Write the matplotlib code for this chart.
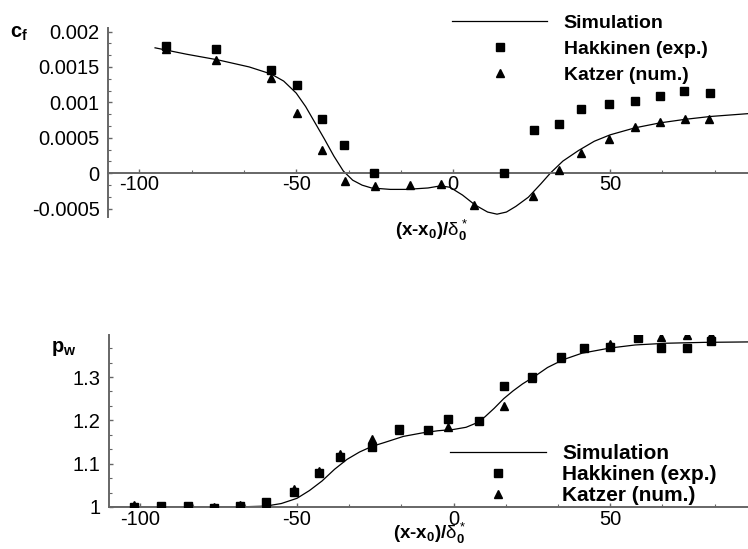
import matplotlib
matplotlib.use("Agg")
import matplotlib.pyplot as plt
from matplotlib.ticker import MultipleLocator, FuncFormatter

plt.rcParams['font.family'] = ['Liberation Sans', 'DejaVu Sans']
plt.rcParams['axes.unicode_minus'] = False
plt.rcParams['mathtext.fontset'] = 'custom'
plt.rcParams['mathtext.rm'] = 'Liberation Sans'
plt.rcParams['mathtext.it'] = 'Liberation Sans'
plt.rcParams['mathtext.bf'] = 'Liberation Sans:bold'

# skin friction, simulation curve
sim_cf_x = [-95, -85, -75, -65, -58, -54, -50, -47, -44, -41, -38, -35, -32, -29, -26,
            -20, -15, -8, -4, -1, 3, 7, 11, 14, 17, 20, 24, 28, 31, 35, 40, 45, 50,
            58, 66, 74, 82, 94]
sim_cf_y = [0.00177, 0.00168, 0.00160, 0.00150, 0.00140, 0.00130, 0.00113, 0.00094,
            0.00071, 0.00048, 0.00024, 0.00003, -0.00010, -0.00017, -0.00021,
            -0.00023, -0.00023, -0.00021, -0.00018, -0.00020, -0.00031, -0.00045,
            -0.00055, -0.00058, -0.00055, -0.00047, -0.00034, -0.00015, 0.0,
            0.00017, 0.00032, 0.00045, 0.00054, 0.00064, 0.00071, 0.00076,
            0.00080, 0.00084]

hak_cf_x = [-91.4, -75.5, -58.1, -49.7, -41.8, -34.9, -25.1, 16.2, 25.7, 33.6, 40.7,
            49.7, 57.9, 66.0, 73.7, 82.0]
hak_cf_y = [0.0018, 0.00175, 0.00145, 0.00124, 0.00076, 0.0004, 0.0, 0.0, 0.00061,
            0.00069, 0.0009, 0.00097, 0.00102, 0.00109, 0.00116, 0.00113]

kat_cf_x = [-91.4, -75.5, -58.1, -49.7, -41.8, -34.6, -24.9, -13.8, -3.8, 6.7, 25.5,
            33.6, 40.8, 49.7, 57.9, 65.8, 74.0, 81.6]
kat_cf_y = [0.00176, 0.0016, 0.00134, 0.00085, 0.00032, -0.00011, -0.00018, -0.00017,
            -0.00016, -0.00045, -0.00032, 0.00005, 0.00029, 0.00048, 0.00065,
            0.00072, 0.00077, 0.00076]

# wall pressure, simulation curve
sim_pw_x = [-110, -70, -60, -55, -50, -46, -42, -38, -34, -30, -26, -22, -16, -10, -5,
            0, 4, 7, 10, 13, 16, 19, 22, 26, 30, 35, 41, 50, 58, 68, 80, 94]
sim_pw_y = [1.0, 1.0, 1.002, 1.008, 1.02, 1.038, 1.06, 1.087, 1.11, 1.127, 1.14, 1.149,
            1.163, 1.171, 1.176, 1.179, 1.184, 1.193, 1.208, 1.228, 1.25, 1.268,
            1.284, 1.302, 1.322, 1.34, 1.355, 1.367, 1.374, 1.378, 1.38, 1.381]

hak_pw_x = [-102, -93.3, -84.9, -76.4, -68.3, -60, -50.8, -43.1, -36.2, -25.9, -17.3,
            -8.1, -1.8, 8.0, 16.2, 25.2, 34.4, 41.8, 50.1, 58.8, 66.1, 74.4, 82.3]
hak_pw_y = [1.0, 1.002, 1.002, 0.998, 1.003, 1.011, 1.035, 1.079, 1.115, 1.139, 1.181,
            1.177, 1.202, 1.198, 1.28, 1.301, 1.347, 1.368, 1.37, 1.39, 1.366, 1.366,
            1.384]

kat_pw_x = [-102, -93.3, -84.9, -76.4, -68.3, -60, -50.8, -43.1, -36.2, -25.9, -17.3,
            -1.8, 16.2, 25.2, 34.4, 50.1, 66.1, 74.4, 82.3]
kat_pw_y = [1.004, 1.003, 1.002, 1.001, 1.004, 1.01, 1.041, 1.083, 1.123, 1.158, 1.177,
            1.185, 1.232, 1.298, 1.344, 1.376, 1.393, 1.397, 1.398]

W, H = 748, 549
fig = plt.figure(figsize=(W / 100, H / 100), dpi=100)

grey = '#666666'


def style(ax, ymajor):
    for s in ['top', 'right']:
        ax.spines[s].set_visible(False)
    for s in ['left', 'bottom']:
        ax.spines[s].set_color(grey)
        ax.spines[s].set_linewidth(1.4)
    ax.xaxis.set_major_locator(MultipleLocator(50))
    ax.xaxis.set_minor_locator(MultipleLocator(50 / 3))
    ax.yaxis.set_major_locator(MultipleLocator(ymajor))
    ax.yaxis.set_minor_locator(MultipleLocator(ymajor / 3))
    ax.yaxis.set_major_formatter(FuncFormatter(lambda v, p: '%g' % round(v, 6)))
    ax.tick_params(which='both', direction='in', color=grey, labelsize=14.5)
    ax.tick_params(which='major', length=3, width=1)
    ax.tick_params(which='minor', length=2, width=0.8)
    ax.tick_params(axis='y', pad=6)


# top panel
ax1 = fig.add_axes([108 / W, 1 - 217 / H, 1 - 108 / W, (217 - 28) / H])
ax1.plot(sim_cf_x, sim_cf_y, color='black', lw=0.9, label='Simulation', zorder=2)
ax1.plot(kat_cf_x, kat_cf_y, '^', color='black', ms=6.3, label='Katzer (num.)', zorder=3)
ax1.plot(hak_cf_x, hak_cf_y, 's', color='black', ms=6.3, label='Hakkinen (exp.)', zorder=4)
ax1.set_xlim(-110, 94)
ax1.set_ylim(-0.00062, 0.00205)
style(ax1, 0.0005)
ax1.spines['bottom'].set_position(('data', 0))
ax1.tick_params(axis='x', pad=1)

h, l = ax1.get_legend_handles_labels()
order = [0, 2, 1]
ax1.legend([h[i] for i in order], [l[i] for i in order], loc='upper left',
           bbox_to_anchor=(452 / W, 1 - 14 / H), bbox_transform=fig.transFigure,
           frameon=False, borderpad=0, borderaxespad=0, handlelength=4.9,
           handletextpad=0.85, labelspacing=0.44, prop={'weight': 'bold', 'size': 14})

fig.text(10 / W, 1 - 38 / H, r'c$_\mathbf{f}$', fontsize=14.5, fontweight='bold',
         va='baseline', ha='left')
fig.text(432 / W, 1 - 230 / H, r'(x-x$_\mathbf{0}$)/$\delta_\mathbf{0}^*$',
         fontsize=13.5, fontweight='bold', ha='center', va='center')

# bottom panel
ax2 = fig.add_axes([109 / W, 1 - 507 / H, 1 - 109 / W, (507 - 335) / H])
ax2.plot(sim_pw_x, sim_pw_y, color='black', lw=0.9, label='Simulation', zorder=2)
ax2.plot(kat_pw_x, kat_pw_y, '^', color='black', ms=6.3, label='Katzer (num.)', zorder=3)
ax2.plot(hak_pw_x, hak_pw_y, 's', color='black', ms=6.3, label='Hakkinen (exp.)', zorder=4)
ax2.set_xlim(-110, 94)
ax2.set_ylim(1.0, 1.397)
style(ax2, 0.1)
ax2.tick_params(axis='x', pad=2)

h, l = ax2.get_legend_handles_labels()
ax2.legend([h[i] for i in order], [l[i] for i in order], loc='upper left',
           bbox_to_anchor=(450 / W, 1 - 444 / H), bbox_transform=fig.transFigure,
           frameon=False, borderpad=0, borderaxespad=0, handlelength=4.6,
           handletextpad=0.8, labelspacing=0.1, prop={'weight': 'bold', 'size': 15})

fig.text(51 / W, 1 - 352 / H, r'p$_\mathbf{w}$', fontsize=14.5, fontweight='bold',
         va='baseline', ha='left')
fig.text(430 / W, 1 - 533 / H, r'(x-x$_\mathbf{0}$)/$\delta_\mathbf{0}^*$',
         fontsize=13.5, fontweight='bold', ha='center', va='center')

fig.savefig('out.png', dpi=100)
